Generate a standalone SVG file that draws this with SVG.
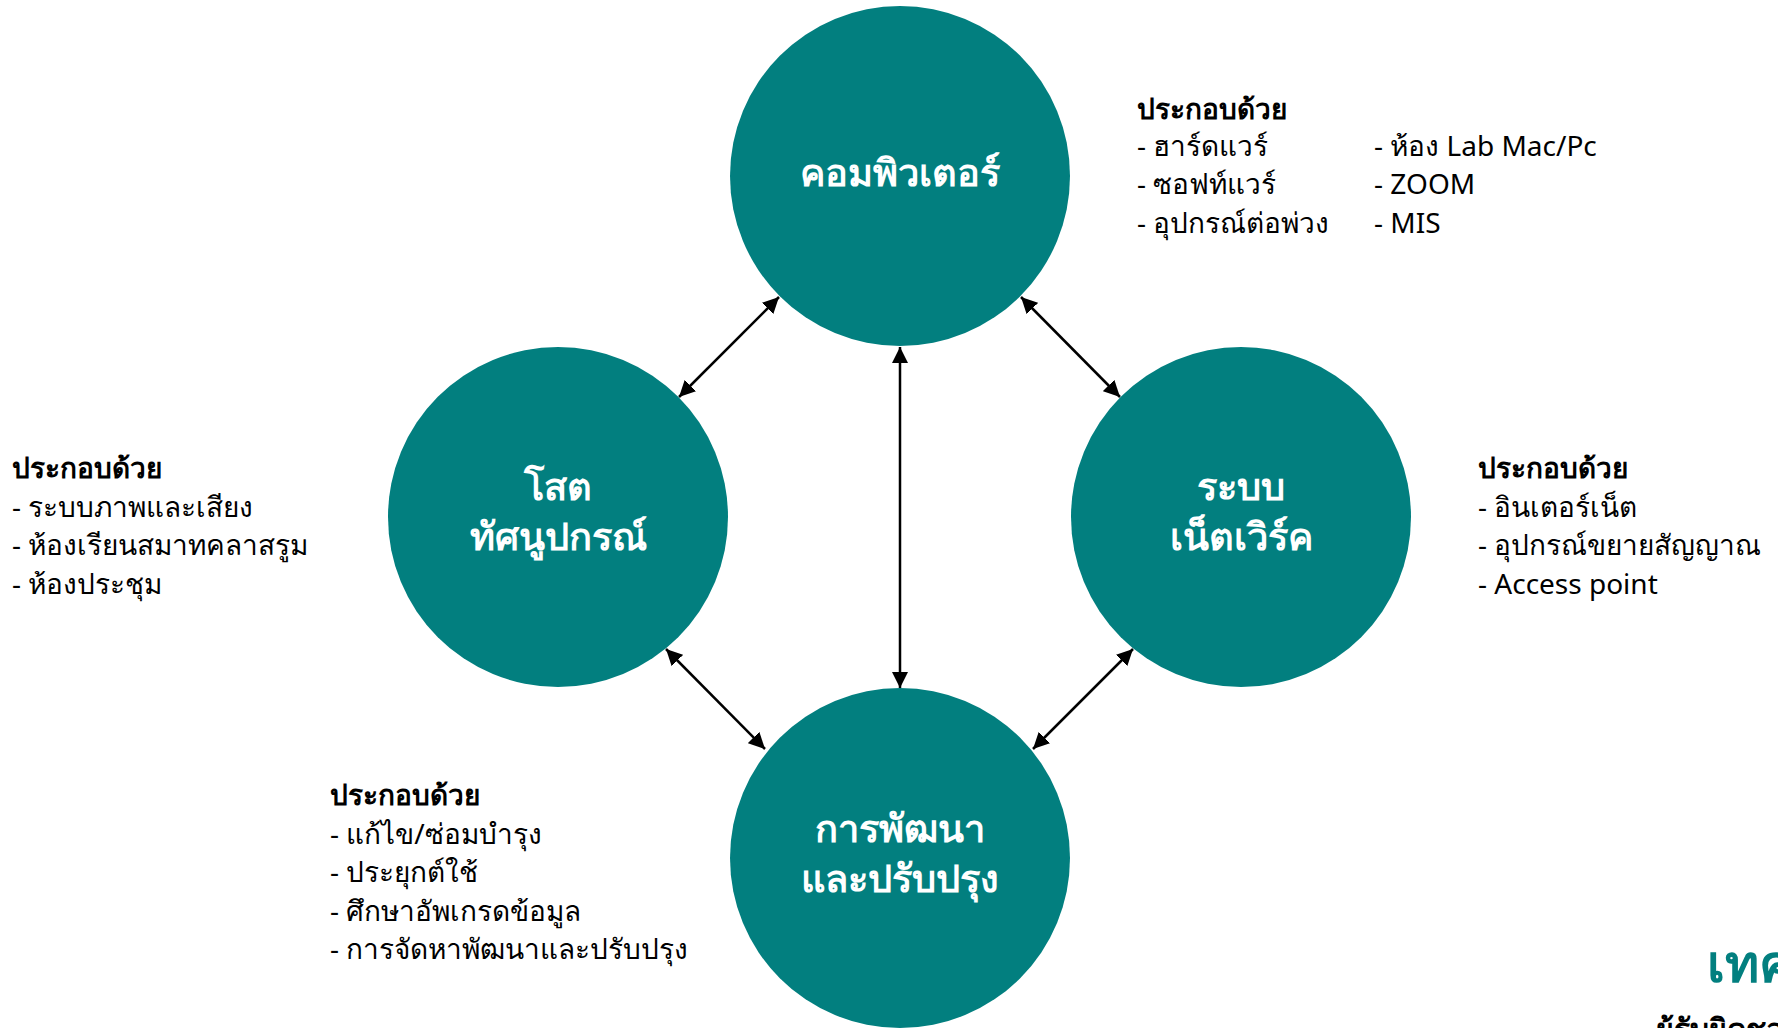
<svg xmlns="http://www.w3.org/2000/svg" width="1778" height="1028" viewBox="0 0 1778 1028">
<style>
.node{fill:#027f7f}
.nl{font-family:"Noto Sans","Liberation Sans",sans-serif;font-weight:bold;font-size:38px;fill:#ffffff;text-anchor:middle}
.h{font-family:"Noto Sans","Liberation Sans",sans-serif;font-weight:bold;font-size:28px;fill:#000}
.t{font-family:"Noto Sans","Liberation Sans",sans-serif;font-size:28px;fill:#000}
.c{stroke:#000;stroke-width:2.5;fill:none;marker-start:url(#a);marker-end:url(#a)}
</style>
<defs>
<marker id="a" viewBox="0 0 10 10" refX="10" refY="5" markerWidth="6.5" markerHeight="6.5" orient="auto-start-reverse" markerUnits="strokeWidth">
<path d="M0,0 L10,5 L0,10 Z" fill="#000"/>
</marker>
</defs>
<rect width="1778" height="1028" fill="#fff"/>
<g id="connectors">
<line class="c" x1="900" y1="347" x2="900" y2="688"/>
<line class="c" x1="779" y1="297" x2="679" y2="397"/>
<line class="c" x1="1021" y1="297" x2="1120" y2="397"/>
<line class="c" x1="666" y1="649" x2="765" y2="749"/>
<line class="c" x1="1133" y1="649" x2="1033" y2="749"/>
</g>
<g id="node-computer">
<circle class="node" cx="900" cy="176" r="170"/>
<text class="nl" x="900" y="186">คอมพิวเตอร์</text>
</g>
<g id="node-av">
<circle class="node" cx="558" cy="517" r="170"/>
<text class="nl" x="558" y="500">โสต</text>
<text class="nl" x="558" y="550">ทัศนูปกรณ์</text>
</g>
<g id="node-network">
<circle class="node" cx="1241" cy="517" r="170"/>
<text class="nl" x="1241" y="500">ระบบ</text>
<text class="nl" x="1241" y="550">เน็ตเวิร์ค</text>
</g>
<g id="node-dev">
<circle class="node" cx="900" cy="858" r="170"/>
<text class="nl" x="900" y="842">การพัฒนา</text>
<text class="nl" x="900" y="892">และปรับปรุง</text>
</g>
<g id="text-computer">
<text class="h" x="1137" y="119">ประกอบด้วย</text>
<text class="t" x="1137" y="156">- ฮาร์ดแวร์</text>
<text class="t" x="1137" y="194">- ซอฟท์แวร์</text>
<text class="t" x="1137" y="233">- อุปกรณ์ต่อพ่วง</text>
<text class="t" x="1374" y="156">- ห้อง Lab Mac/Pc</text>
<text class="t" x="1374" y="194">- ZOOM</text>
<text class="t" x="1374" y="233">- MIS</text>
</g>
<g id="text-av">
<text class="h" x="12" y="478">ประกอบด้วย</text>
<text class="t" x="12" y="517">- ระบบภาพและเสียง</text>
<text class="t" x="12" y="555">- ห้องเรียนสมาทคลาสรูม</text>
<text class="t" x="12" y="594">- ห้องประชุม</text>
</g>
<g id="text-network">
<text class="h" x="1478" y="478">ประกอบด้วย</text>
<text class="t" x="1478" y="517">- อินเตอร์เน็ต</text>
<text class="t" x="1478" y="555">- อุปกรณ์ขยายสัญญาณ</text>
<text class="t" x="1478" y="594">- Access point</text>
</g>
<g id="text-dev">
<text class="h" x="330" y="805">ประกอบด้วย</text>
<text class="t" x="330" y="844">- แก้ไข/ซ่อมบำรุง</text>
<text class="t" x="330" y="882">- ประยุกต์ใช้</text>
<text class="t" x="330" y="921">- ศึกษาอัพเกรดข้อมูล</text>
<text class="t" x="330" y="959">- การจัดหาพัฒนาและปรับปรุง</text>
</g>
<g id="title">
<text x="1707" y="982" style="font-family:'Noto Sans','Liberation Sans',sans-serif;font-weight:bold;font-size:52px;fill:#027f7f">เทคโนโลยี</text>
<text x="1656" y="1040" style="font-family:'Noto Sans','Liberation Sans',sans-serif;font-weight:bold;font-size:30px;fill:#000">ผู้รับผิดชอบ</text>
</g>
</svg>
